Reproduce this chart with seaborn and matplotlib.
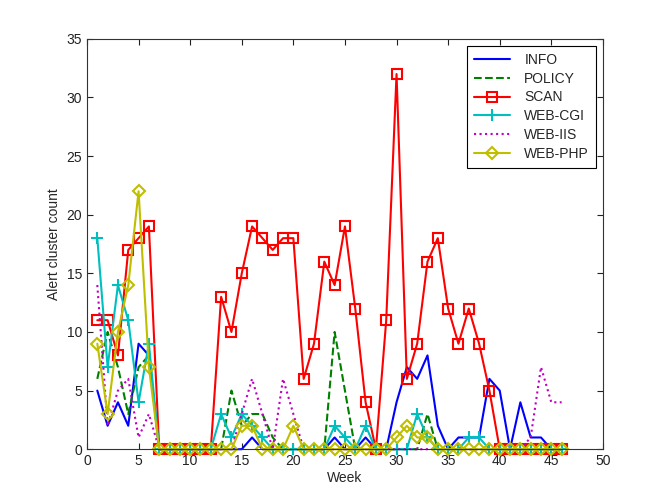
import numpy as np
import pandas as pd
import matplotlib
matplotlib.use("Agg")
import matplotlib.pyplot as plt
import seaborn as sns

# Weekly alert cluster counts per category
weeks = list(range(1, 47))

info = [5, 2, 4, 2, 9, 8, 0, 0, 0, 0, 0, 0, 0, 0, 0, 1, 0, 0, 0, 0,
        0, 0, 0, 1, 0, 0, 1, 0, 0, 4, 7, 6, 8, 2, 0, 1, 1, 1, 6, 5,
        0, 4, 1, 1, 0, 0]
policy = [6, 10, 7, 3, 7, 8, 0, 0, 0, 0, 0, 0, 0, 5, 2, 3, 3, 1, 0, 0,
          0, 0, 0, 10, 5, 0, 0, 0, 0, 0, 0, 0, 3, 0, 0, 0, 0, 0, 0, 0,
          0, 0, 0, 0, 0, 0]
scan = [11, 11, 8, 17, 18, 19, 0, 0, 0, 0, 0, 0, 13, 10, 15, 19, 18, 17, 18, 18,
        6, 9, 16, 14, 19, 12, 4, 0, 11, 32, 6, 9, 16, 18, 12, 9, 12, 9, 5, 0,
        0, 0, 0, 0, 0, 0]
web_cgi = [18, 7, 14, 11, 4, 9, 0, 0, 0, 0, 0, 0, 3, 1, 3, 2, 1, 0, 0, 0,
           0, 0, 0, 2, 1, 0, 2, 0, 0, 0, 0, 3, 1, 0, 0, 0, 1, 1, 0, 0,
           0, 0, 0, 0, 0, 0]
web_iis = [14, 2, 5, 6, 1, 3, 0, 0, 0, 0, 0, 0, 0, 0, 3, 6, 3, 0, 6, 3,
           0, 0, 0, 0, 0, 0, 0, 0, 0, 0, 0, 0, 0, 0, 0, 0, 0, 0, 0, 0,
           0, 0, 1, 7, 4, 4]
web_php = [9, 3, 10, 14, 22, 7, 0, 0, 0, 0, 0, 0, 0, 0, 2, 2, 0, 0, 0, 2,
           0, 0, 0, 0, 0, 0, 0, 0, 0, 1, 2, 1, 1, 0, 0, 0, 0, 0, 0, 0,
           0, 0, 0, 0, 0, 0]

labels = ["INFO", "POLICY", "SCAN", "WEB-CGI", "WEB-IIS", "WEB-PHP"]
series = [info, policy, scan, web_cgi, web_iis, web_php]

# matlab-ish styles
styles = {
    "INFO": dict(color=(0, 0, 1), linestyle="-", marker=None, ms=0),
    "POLICY": dict(color=(0, 0.5, 0), linestyle="--", marker=None, ms=0),
    "SCAN": dict(color=(1, 0, 0), linestyle="-", marker="s", ms=7),
    "WEB-CGI": dict(color=(0, 0.75, 0.75), linestyle="-", marker="+", ms=9),
    "WEB-IIS": dict(color=(0.75, 0, 0.75), linestyle=":", marker=None, ms=0),
    "WEB-PHP": dict(color=(0.75, 0.75, 0), linestyle="-", marker="D", ms=6.5),
}

sns.set_style("ticks")
plt.rcParams["font.family"] = ["Liberation Sans", "DejaVu Sans"]

fig, ax = plt.subplots(figsize=(6.64, 4.92), dpi=100)
fig.subplots_adjust(left=0.131, right=0.908, top=0.921, bottom=0.087)

for name, vals in zip(labels, series):
    st = styles[name]
    kw = dict(color=st["color"], linestyle=st["linestyle"], linewidth=1.5,
              label=name, clip_on=False)
    if st["marker"]:
        kw.update(marker=st["marker"], markersize=st["ms"],
                  markerfacecolor="none", markeredgecolor=st["color"],
                  markeredgewidth=1.5)
    sns.lineplot(x=weeks, y=vals, ax=ax, **kw)

ax.set_xlim(0, 50)
ax.set_ylim(0, 35)
ax.set_xticks(range(0, 51, 5))
ax.set_yticks(range(0, 36, 5))
ax.set_xlabel("Week", fontsize=10, labelpad=2)
ax.set_ylabel("Alert cluster count", fontsize=10, labelpad=4)
ax.tick_params(direction="in", top=True, right=True, length=4,
               labelsize=10, colors="#222222", width=0.8)
for sp in ax.spines.values():
    sp.set_visible(True)
    sp.set_color("#333333")
    sp.set_linewidth(0.8)

leg = ax.legend(loc="upper right", numpoints=1, fontsize=10,
                fancybox=False, framealpha=1, edgecolor="black",
                borderaxespad=0.5, handlelength=2.6, handletextpad=1.0,
                borderpad=0.5, labelspacing=0.35)
leg.get_frame().set_linewidth(0.8)

plt.savefig("out.png", dpi=100)
